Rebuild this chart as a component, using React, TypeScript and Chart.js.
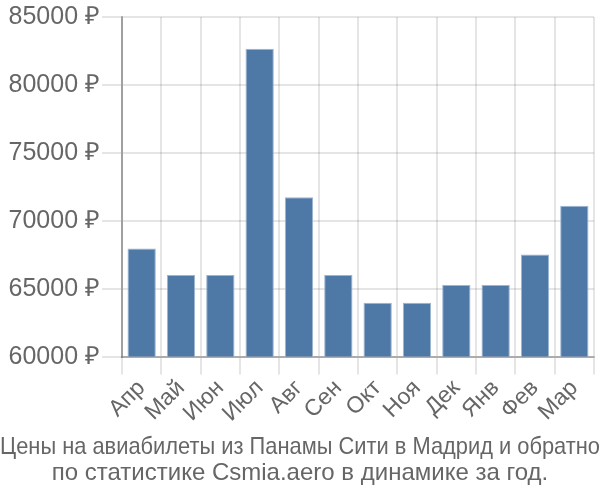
import React, { useEffect, useRef } from "react";
import { Chart, registerables } from "chart.js";

Chart.register(...registerables);

const months = ["Апр", "Май", "Июн", "Июл", "Авг", "Сен", "Окт", "Ноя", "Дек", "Янв", "Фев", "Мар"];
const prices = [67960, 66000, 66000, 82670, 71740, 66000, 63970, 63970, 65270, 65270, 67520, 71100];
const titleLines = [
  "Цены на авиабилеты из Панамы Сити в Мадрид и обратно",
  "по статистике Csmia.aero в динамике за год.",
];
const yMin = 60000;
const yMax = 85000;
const yStep = 5000;

export default function App() {
  const ref = useRef<HTMLCanvasElement | null>(null);
  useEffect(() => {
    if (!ref.current) return;
    const font = "'Liberation Sans', Arial, sans-serif";
    const chart = new Chart(ref.current, {
      type: "bar",
      data: {
        labels: months,
        datasets: [
          {
            data: prices,
            backgroundColor: "#4e79a7",
            borderColor: "#9bb5d0",
            borderWidth: 1,
            barPercentage: 0.9,
            categoryPercentage: 0.8,
          },
        ],
      },
      options: {
        animation: false,
        responsive: false,
        maintainAspectRatio: false,
        layout: { padding: { top: 2, right: 0, left: 0, bottom: 10 } },
        plugins: {
          legend: { display: false },
          tooltip: { enabled: false },
          title: {
            display: true,
            position: "bottom",
            text: titleLines,
            color: "#666",
            font: { family: font, size: 24, weight: "normal", lineHeight: 1.08 },
            padding: { top: 7, bottom: 4 },
          },
        },
        scales: {
          x: {
            grid: { color: "rgba(0,0,0,0.1)", lineWidth: 2, tickLength: 18, offset: true },
            border: { color: "rgba(0,0,0,0.25)", width: 2 },
            ticks: {
              color: "#666",
              font: { family: font, size: 23 },
              maxRotation: 45,
              minRotation: 45,
              autoSkip: false,
              padding: 0,
            },
          },
          y: {
            min: yMin,
            max: yMax,
            grid: { color: "rgba(0,0,0,0.1)", lineWidth: 2, tickLength: 20 },
            border: { color: "rgba(0,0,0,0.3)", width: 2 },
            ticks: {
              stepSize: yStep,
              color: "#666",
              font: { family: font, size: 25 },
              padding: 2,
              callback: (v: any) => v + " ₽",
            },
            afterFit: (s: any) => {
              s.width = 122;
            },
          },
          yRightPad: {
            position: "right",
            display: true,
            grid: { display: false, drawTicks: false },
            border: { display: false },
            ticks: { display: false },
            afterFit: (s: any) => {
              s.width = 6;
            },
          },
        },
      },
    });
    return () => chart.destroy();
  }, []);
  return (
    <div style={{ position: "fixed", left: 0, top: 0, width: 600, height: 500, background: "#fff" }}>
      <canvas ref={ref} width={600} height={500} style={{ width: 600, height: 500 }} />
    </div>
  );
}
